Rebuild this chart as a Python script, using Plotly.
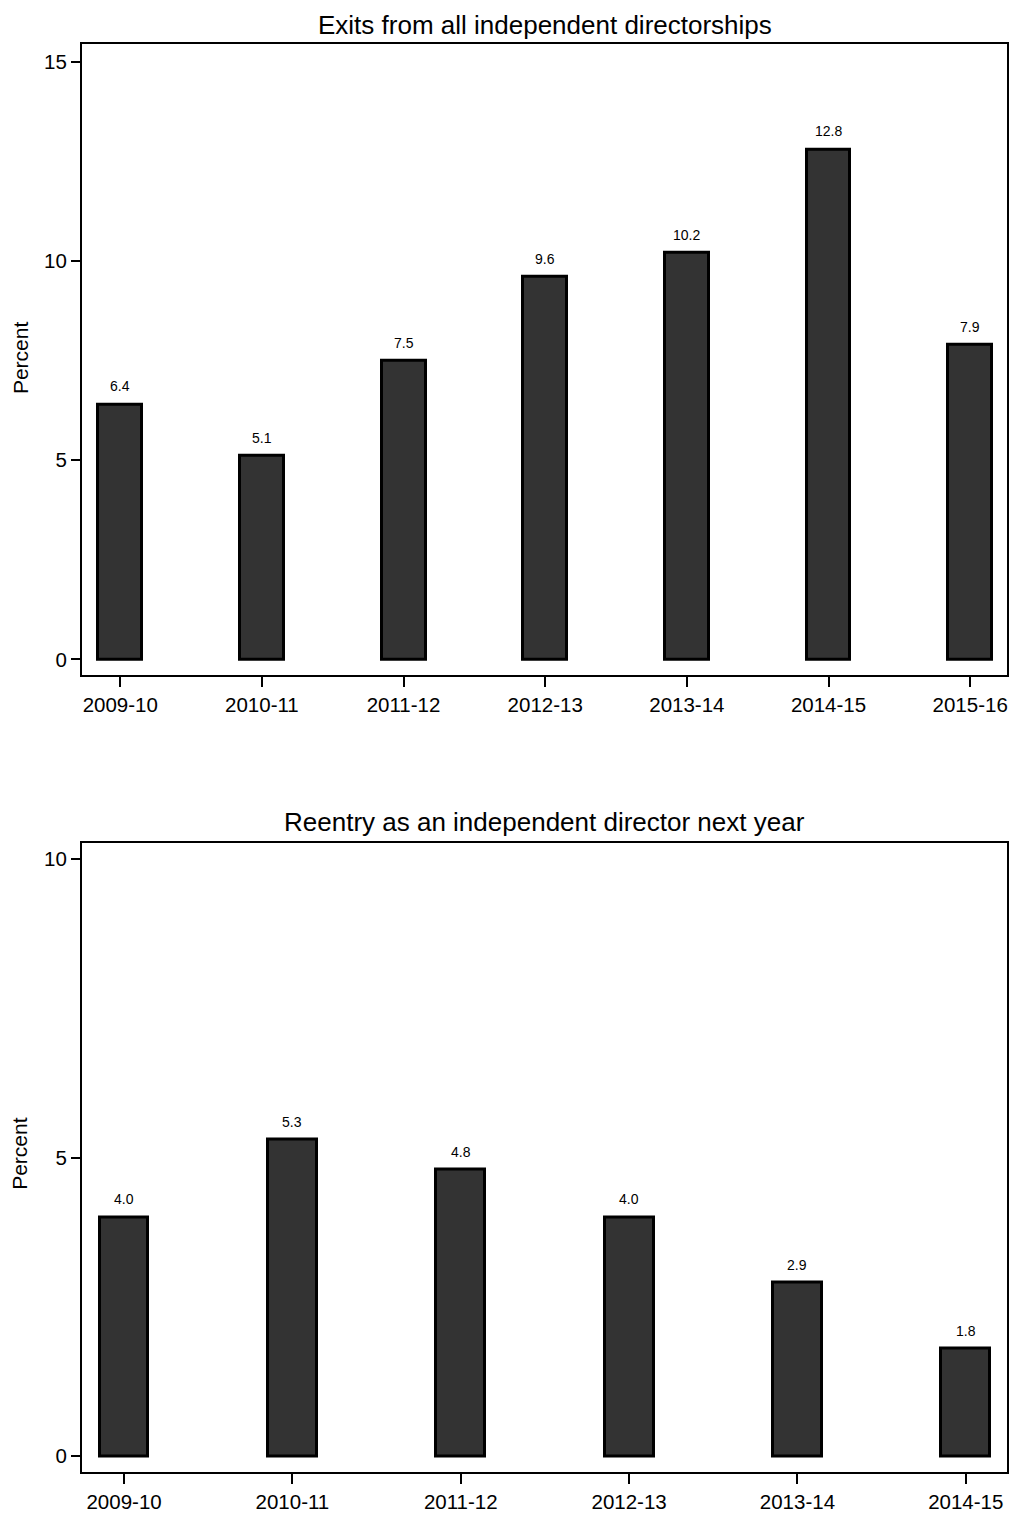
import plotly.graph_objects as go

top_categories = ["2009-10", "2010-11", "2011-12", "2012-13", "2013-14", "2014-15", "2015-16"]
top_values = [6.4, 5.1, 7.5, 9.6, 10.2, 12.8, 7.9]
top_title = "Exits from all independent directorships"

bottom_categories = ["2009-10", "2010-11", "2011-12", "2012-13", "2013-14", "2014-15"]
bottom_values = [4.0, 5.3, 4.8, 4.0, 2.9, 1.8]
bottom_title = "Reentry as an independent director next year"

y_title = "Percent"

FONT = "Liberation Sans, Arial, sans-serif"
W, H = 1011, 1513

fig = go.Figure()

fig.add_trace(go.Bar(
    x=list(range(len(top_categories))), y=top_values,
    width=0.31,
    marker=dict(color="#333333", line=dict(color="black", width=3)),
    xaxis="x", yaxis="y", showlegend=False, hoverinfo="x+y",
))
fig.add_trace(go.Bar(
    x=list(range(len(bottom_categories))), y=bottom_values,
    width=0.29,
    marker=dict(color="#333333", line=dict(color="black", width=3)),
    xaxis="x2", yaxis="y2", showlegend=False, hoverinfo="x+y",
))

def px_dom(top_px, bot_px):
    return [1 - bot_px / H, 1 - top_px / H]

axis_common = dict(showline=True, linecolor="black", linewidth=2, mirror=True,
                   showgrid=False, zeroline=False, ticks="outside", tickcolor="black",
                   tickwidth=1.5,
                   tickfont=dict(size=20.5, color="black", family=FONT))

annotations = [
    dict(text=top_title, xref="paper", yref="paper", x=0.5, y=1 - 25 / H,
         showarrow=False, font=dict(size=26, color="black", family=FONT),
         xanchor="center", yanchor="middle"),
    dict(text=bottom_title, xref="paper", yref="paper", x=0.5, y=1 - 826 / H,
         showarrow=False, font=dict(size=26, color="black", family=FONT),
         xanchor="center", yanchor="middle"),
    dict(text=y_title, xref="paper", yref="paper", x=(20 - 82) / 925, y=1 - 360 / H,
         showarrow=False, textangle=-90, font=dict(size=21, color="black", family=FONT),
         xanchor="center", yanchor="middle"),
    dict(text=y_title, xref="paper", yref="paper", x=(20 - 82) / 925, y=1 - 1160 / H,
         showarrow=False, textangle=-90, font=dict(size=21, color="black", family=FONT),
         xanchor="center", yanchor="middle"),
]
for i, v in enumerate(top_values):
    annotations.append(dict(text=f"{v:.1f}", x=i, y=v, xref="x", yref="y",
                            showarrow=False, yanchor="bottom", yshift=8,
                            font=dict(size=14, color="black", family=FONT)))
for i, v in enumerate(bottom_values):
    annotations.append(dict(text=f"{v:.1f}", x=i, y=v, xref="x2", yref="y2",
                            showarrow=False, yanchor="bottom", yshift=8,
                            font=dict(size=14, color="black", family=FONT)))

fig.update_layout(
    width=W, height=H,
    paper_bgcolor="white", plot_bgcolor="white",
    margin=dict(l=82, r=4, t=0, b=0),
    font=dict(family=FONT, color="black"),
    bargap=0,
    xaxis=dict(**axis_common, domain=[0, 1], anchor="y", range=[-0.27, 6.26],
               tickmode="array", tickvals=list(range(len(top_categories))),
               ticktext=top_categories, ticklen=10),
    yaxis=dict(**axis_common, domain=px_dom(44, 679), anchor="x", range=[-0.4, 15.45],
               tickvals=[0, 5, 10, 15], ticklen=9),
    xaxis2=dict(**axis_common, domain=[0, 1], anchor="y2", range=[-0.25, 5.245],
                tickmode="array", tickvals=list(range(len(bottom_categories))),
                ticktext=bottom_categories, ticklen=10),
    yaxis2=dict(**axis_common, domain=px_dom(847, 1480), anchor="x2", range=[-0.27, 10.28],
                tickvals=[0, 5, 10], ticklen=9),
    annotations=annotations,
)

fig.write_html(
    "out.html",
    config={"displayModeBar": False},
    post_script="document.body.style.margin='0';document.body.style.padding='0';"
                "document.body.style.overflow='hidden';"
                "document.documentElement.style.overflow='hidden';",
)
